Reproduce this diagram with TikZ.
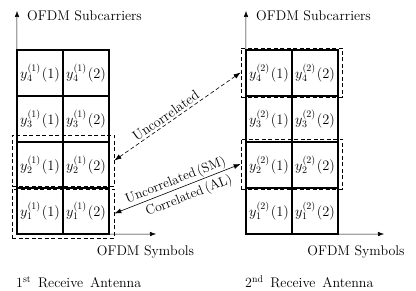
\documentclass[tikz,border=0pt]{standalone}
\usepackage{fontspec}
\usetikzlibrary{arrows.meta}
\begin{document}
\begin{tikzpicture}[x=1pt,y=-1pt,
  cell/.style={draw, line width=1.1pt, minimum width=46pt, minimum height=46pt, inner sep=0pt, font=\fontsize{14.4}{17}\selectfont},
  dbox/.style={draw, line width=0.7pt, dash pattern=on 4pt off 2.5pt, inner sep=0pt},
  axis/.style={line width=0.5pt, -{Latex[length=6pt,width=4.5pt]}},
  lbl/.style={font=\fontsize{14}{16}\selectfont, inner sep=0pt},
  rel/.style={line width=0.6pt, {Latex[length=7pt,width=5pt]}-{Latex[length=7pt,width=5pt]}},
  rlbl/.style={font=\fontsize{13.5}{16}\selectfont, inner sep=0pt, sloped}]
\useasboundingbox (0,0) rectangle (416,291);
% left grid
\node[cell] (L41) at (40,73) {$y_4^{(1)}\kern1pt(1)$};
\node[cell] (L42) at (86,73) {$y_4^{(1)}\kern1pt(2)$};
\node[cell] (L31) at (40,119) {$y_3^{(1)}\kern1pt(1)$};
\node[cell] (L32) at (86,119) {$y_3^{(1)}\kern1pt(2)$};
\node[cell] (L21) at (40,165) {$y_2^{(1)}\kern1pt(1)$};
\node[cell] (L22) at (86,165) {$y_2^{(1)}\kern1pt(2)$};
\node[cell] (L11) at (40,211) {$y_1^{(1)}\kern1pt(1)$};
\node[cell] (L12) at (86,211) {$y_1^{(1)}\kern1pt(2)$};
% right grid
\node[cell] (R41) at (269,73) {$y_4^{(2)}\kern1pt(1)$};
\node[cell] (R42) at (315,73) {$y_4^{(2)}\kern1pt(2)$};
\node[cell] (R31) at (269,119) {$y_3^{(2)}\kern1pt(1)$};
\node[cell] (R32) at (315,119) {$y_3^{(2)}\kern1pt(2)$};
\node[cell] (R21) at (269,165) {$y_2^{(2)}\kern1pt(1)$};
\node[cell] (R22) at (315,165) {$y_2^{(2)}\kern1pt(2)$};
\node[cell] (R11) at (269,211) {$y_1^{(2)}\kern1pt(1)$};
\node[cell] (R12) at (315,211) {$y_1^{(2)}\kern1pt(2)$};
% axes
\coordinate (LyTip) at (17,11);
\coordinate (LxTip) at (156,234);
\coordinate (RyTip) at (246,11);
\coordinate (RxTip) at (384,234);
\draw[axis] (L11.south west) -- (LyTip);
\draw[axis] (L11.south west) -- (LxTip);
\draw[axis] (R11.south west) -- (RyTip);
\draw[axis] (R11.south west) -- (RxTip);
% axis labels
\node[lbl, anchor=base west] (LySub) at (27,21) {OFDM Subcarriers};
\node[lbl, anchor=base west] (RySub) at (256,21) {OFDM Subcarriers};
\node[lbl, anchor=base] (LxSym) at (145.5,256) {OFDM Symbols};
\node[lbl, anchor=base] (RxSym) at (356,256) {OFDM Symbols};
\node[lbl, anchor=base west] (LAnt) at (16,288) {1\textsuperscript{st}\ \,Receive\ \,Antenna};
\node[lbl, anchor=base west] (RAnt) at (245,288) {2\textsuperscript{nd}\ \,Receive\ \,Antenna};
% dashed boxes
\node[dbox, minimum width=102pt, minimum height=51pt] (LB2) at (63,160.5) {};
\node[dbox, minimum width=102pt, minimum height=49pt] (LB1) at (63,213.5) {};
\node[dbox, minimum width=101pt, minimum height=49pt] (RB4) at (291.5,72.5) {};
\node[dbox, minimum width=101pt, minimum height=50pt] (RB2) at (291.5,164) {};
% relation arrows
\draw[rel, dash pattern=on 4pt off 2.5pt] (LB2.east) -- node[rlbl, above=2pt, pos=0.44, font=\fontsize{14}{16}\selectfont] {Uncorrelated} (RB4.west);
\draw[rel] (LB1.east) -- node[rlbl, above=1pt, pos=0.51] {Uncorrelated\,(SM)} node[rlbl, below=4pt, pos=0.56] {Correlated\,(AL)} (RB2.west);
\end{tikzpicture}
\end{document}
